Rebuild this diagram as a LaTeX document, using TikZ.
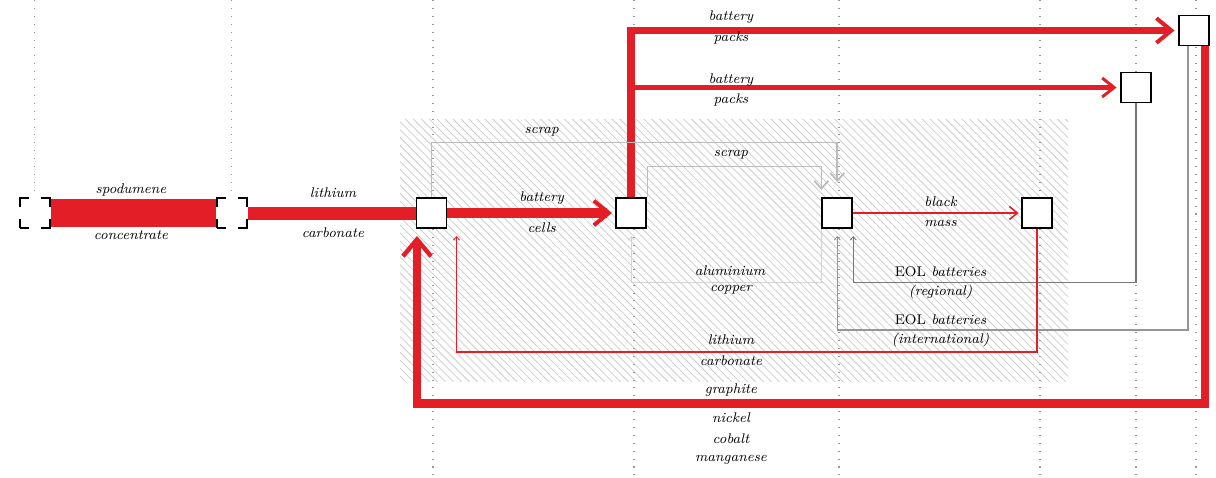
\documentclass[tikz,border=0pt]{standalone}
\usepackage{tikz}
\usetikzlibrary{positioning,arrows.meta,patterns.meta}

\definecolor{flowred}{RGB}{228,30,38}
\definecolor{scrapgray}{RGB}{188,188,188}
\definecolor{metalgray}{RGB}{212,212,212}
\definecolor{eolgray}{RGB}{120,120,120}
\definecolor{exportgray}{RGB}{150,150,150}

\begin{document}
\begin{tikzpicture}[x=0.02cm,y=-0.02cm]
		\tikzstyle{stage} = [rectangle, minimum size=0.6cm, inner sep=0pt, line width=1.1pt, draw=black, fill=white]
		\tikzstyle{source} = [stage, dash pattern=on 0.36cm off 0.24cm, dash phase=0.18cm]
		\tikzstyle{guide} = [gray!80, line width=0.6pt, dash pattern=on 0.6pt off 3.9pt]
		\tikzstyle{flowlabel} = [font=\fontsize{8}{9.5}\selectfont\itshape, inner sep=0pt]
		\tikzstyle{oreflow} = [flowred, line width=15.8pt]
		\tikzstyle{saltflow} = [flowred, line width=7.4pt]
		\tikzstyle{cellflow} = [flowred, line width=5.7pt, shorten >=2pt, -{Straight Barb[length=8.5pt,width=14pt,line width=2.3pt]}]
		\tikzstyle{packflow} = [flowred, line width=4.5pt, shorten >=2pt, -{Straight Barb[length=8.5pt,width=14pt,line width=2.3pt]}]
		\tikzstyle{minorpackflow} = [flowred, line width=2.6pt, shorten >=2pt, -{Straight Barb[length=6.8pt,width=10.8pt,line width=1.7pt]}]
		\tikzstyle{cathodeflow} = [flowred, line width=5pt, shorten >=4pt, -{Straight Barb[length=9.6pt,width=16pt,line width=2.5pt]}]
		\tikzstyle{scrapflow} = [scrapgray, line width=0.9pt, -{Straight Barb[length=4.5pt,width=8pt,line width=1pt]}]
		\tikzstyle{massflow} = [flowred, line width=0.8pt, shorten >=1.5pt, -{Straight Barb[length=4.5pt,width=7.4pt,line width=0.9pt]}]
		\tikzstyle{returnflow} = [line width=0.65pt, shorten >=4pt, -{Straight Barb[length=2pt,width=3.5pt,line width=0.5pt]}]

		\useasboundingbox (0,0) rectangle (1216,477);

		\fill [pattern={Lines[angle=-45,distance=3.2pt,line width=0.45pt]}, pattern color=gray!40] (400,119) rectangle (1068,381);

		\foreach \x in {433,634,839,1040,1136,1196}
			\draw [guide] (\x,0) -- (\x,477);

		\node (mining) [source] at (34.7,213) {};
		\node (refining) [source, right=3.3cm of mining] {};
		\node (cellPlant) [stage, right=3.36cm of refining] {};
		\node (packPlant) [stage, right=3.36cm of cellPlant] {};
		\node (shredding) [stage, right=3.48cm of packPlant] {};
		\node (hydromet) [stage, right=3.36cm of shredding] {};
		\node (regionalUse) [stage] at (1136,87.5) {};
		\node (exportUse) [stage] at (1194,30.5) {};

		\foreach \col in {mining,refining}
			\draw [guide] (\col.center |- 0,0) -- (\col.north);

		\coordinate (scrapHigh) at (0,142.5);
		\coordinate (scrapLow) at (0,166.5);
		\coordinate (sortLevel) at (0,282.7);
		\coordinate (exportLevel) at (0,330);
		\coordinate (lithiumLevel) at (0,352);
		\coordinate (cathodeLevel) at (0,403.3);
		\coordinate (exportOut) at ([xshift=-0.12cm]exportUse.south);
		\coordinate (cathodeOut) at ([xshift=-0.1cm]exportUse.south east);

		\draw [oreflow] (mining) -- (refining);
		\draw [saltflow] (refining) -- (cellPlant);
		\draw [cellflow] (cellPlant) -- (packPlant);
		\draw [packflow] (packPlant.north) |- (exportUse);
		\draw [minorpackflow] (packPlant.north |- regionalUse) -- (regionalUse);

		\draw [scrapflow, shorten >=8.5pt] (cellPlant.north) -- (cellPlant.north |- scrapHigh) -| (shredding.north);
		\draw [scrapflow, shorten >=4pt] (packPlant.north east) -- (packPlant.north east |- scrapLow) -| (shredding.north west);
		\draw [massflow] (shredding) -- (hydromet);

		\draw [returnflow, metalgray] (shredding.south west) -- (shredding.south west |- sortLevel) -| (packPlant.south);
		\draw [returnflow, eolgray] (regionalUse.south) -- (regionalUse.south |- sortLevel) -| (shredding.south east);
		\draw [returnflow, exportgray] (exportOut) -- (exportOut |- exportLevel) -| (shredding.south);
		\draw [returnflow, flowred, line width=0.8pt] (hydromet.south) -- (hydromet.south |- lithiumLevel) -| ([xshift=0.5cm]cellPlant.south);
		\draw [cathodeflow] (cathodeOut) -- (cathodeOut |- cathodeLevel) -| ([xshift=-0.29cm]cellPlant.south);

		\node (oreTop) [flowlabel] at (131,190) {spodumene};
		\node (oreBottom) [flowlabel] at (131,235) {concentrate};
		\node (saltTop) [flowlabel] at (333,193) {lithium};
		\node (saltBottom) [flowlabel] at (333,233) {carbonate};
		\node (cellTop) [flowlabel] at (541.7,198.3) {battery};
		\node (cellBottom) [flowlabel] at (541.7,227.3) {cells};
		\node (packTop) [flowlabel] at (731,16.7) {battery};
		\node (packBottom) [flowlabel] at (731,38.3) {packs};
		\node (minorPackTop) [flowlabel] at (731,80) {battery};
		\node (minorPackBottom) [flowlabel] at (731,100) {packs};
		\node (cellScrap) [flowlabel] at (541.7,131.7) {scrap};
		\node (packScrap) [flowlabel] at (731,155) {scrap};
		\node (metalTop) [flowlabel] at (730,271) {aluminium};
		\node (metalBottom) [flowlabel] at (731,290) {copper};
		\node (massTop) [flowlabel] at (940.5,201.7) {black};
		\node (massBottom) [flowlabel] at (940.5,223) {mass};
		\node (regionalTop) [flowlabel] at (940.5,271.7) {\textup{EOL} batteries};
		\node (regionalBottom) [flowlabel] at (940.5,292) {(regional)};
		\node (exportTop) [flowlabel] at (940.5,319.3) {\textup{EOL} batteries};
		\node (exportBottom) [flowlabel] at (940.5,340) {(international)};
		\node (lithiumTop) [flowlabel] at (731,340) {lithium};
		\node (lithiumBottom) [flowlabel] at (731,361) {carbonate};
		\node (cathodeA) [flowlabel] at (731,390) {graphite};
		\node (cathodeB) [flowlabel] at (731,418) {nickel};
		\node (cathodeC) [flowlabel] at (731,439) {cobalt};
		\node (cathodeD) [flowlabel] at (731,460) {manganese};

	\end{tikzpicture}
\end{document}
